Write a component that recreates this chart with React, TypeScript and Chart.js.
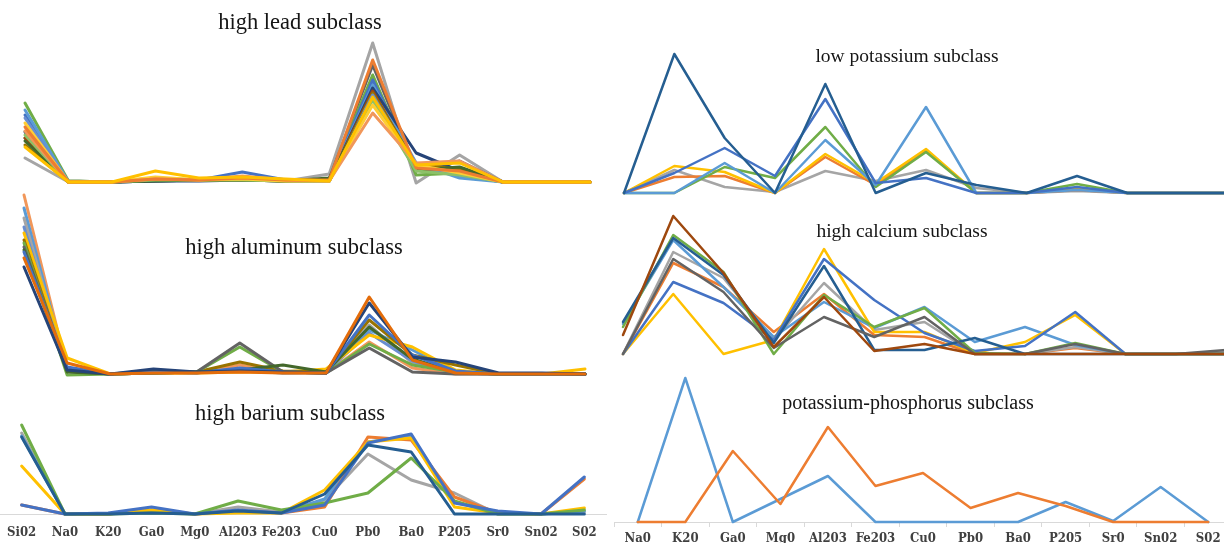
import React, { useEffect, useRef } from "react";
import { Chart, registerables } from "chart.js";

Chart.register(...registerables);

// ---------- categories ----------
const leftLabels = ["Si02", "Na0", "K20", "Ga0", "Mg0", "Al203", "Fe203", "Cu0", "Pb0", "Ba0", "P205", "Sr0", "Sn02", "S02"];
const rightLabels = ["Na0", "K20", "Ga0", "Mg0", "Al203", "Fe203", "Cu0", "Pb0", "Ba0", "P205", "Sr0", "Sn02", "S02"];

// ---------- high lead subclass ----------
const leadGray = [25, 1, 1, 3, 3, 4, 2, 9, 140, 0, 28, 1, 1, 1];
const leadDarkGray = [45, 1, 1, 2, 3, 3, 2, 4, 118, 12, 22, 1, 1, 1];
const leadGreen = [80, 2, 1, 3, 3, 4, 2, 3, 108, 8, 10, 1, 1, 1];
const leadBlue = [68, 1, 1, 2, 3, 11, 3, 3, 103, 14, 8, 1, 1, 1];
const leadLightBlue = [73, 1, 1, 5, 3, 6, 3, 3, 98, 20, 5, 1, 1, 1];
const leadNavy = [51, 1, 1, 2, 2, 3, 2, 2, 95, 30, 12, 1, 1, 1];
const leadBrown = [45, 1, 1, 3, 3, 4, 2, 3, 92, 16, 10, 1, 1, 1];
const leadOlive = [38, 1, 1, 4, 3, 3, 2, 2, 90, 18, 14, 1, 1, 1];
const leadPurple = [65, 1, 1, 3, 3, 5, 2, 2, 88, 15, 8, 1, 1, 1];
const leadDarkGreen = [42, 2, 1, 2, 3, 3, 2, 5, 85, 13, 16, 1, 1, 1];
const leadLightGreen = [48, 1, 1, 3, 3, 3, 2, 2, 83, 12, 8, 1, 1, 1];
const leadLightYellow = [60, 1, 1, 6, 3, 4, 2, 2, 78, 18, 10, 1, 1, 1];
const leadLightOrange = [52, 1, 1, 4, 3, 7, 3, 2, 70, 20, 22, 1, 1, 1];
const leadOrange = [56, 1, 1, 4, 3, 5, 3, 3, 123, 15, 12, 1, 1, 1];
const leadYellow = [36, 1, 1, 12, 5, 6, 4, 2, 86, 18, 20, 1, 1, 1];

// ---------- high aluminum subclass ----------
const aluLightOrange = [180, 6, 1, 2, 2, 10, 2, 2, 33, 7, 1, 1, 1, 1];
const aluLightBlue = [167, 5, 1, 2, 3, 5, 2, 3, 45, 25, 3, 1, 1, 1];
const aluGray = [157, 4, 1, 2, 3, 4, 2, 2, 50, 12, 2, 1, 1, 1];
const aluPurple = [148, 5, 1, 2, 3, 6, 3, 3, 42, 14, 2, 1, 1, 1];
const aluYellow = [142, 17, 1, 2, 2, 3, 3, 6, 40, 28, 5, 1, 1, 6];
const aluOlive = [135, 4, 1, 2, 3, 13, 4, 3, 55, 20, 10, 1, 1, 1];
const aluGreen = [132, 0, 1, 2, 3, 28, 3, 2, 31, 10, 3, 1, 1, 1];
const aluDarkGray = [128, 4, 1, 2, 3, 32, 3, 2, 27, 3, 1, 1, 1, 1];
const aluDarkGreen = [125, 3, 1, 4, 3, 5, 10, 3, 48, 16, 3, 1, 1, 1];
const aluBlue = [123, 8, 1, 3, 2, 7, 3, 2, 60, 20, 4, 1, 1, 1];
const aluNavy = [108, 5, 1, 6, 3, 4, 3, 2, 72, 18, 13, 2, 2, 1];
const aluOrange = [117, 12, 1, 2, 2, 3, 2, 2, 78, 15, 2, 1, 1, 1];

// ---------- high barium subclass ----------
const barGray = [81, 0, 0, 2, 0, 7, 2, 14, 60, 34, 21, 0, 0, 2];
const barLightBlue = [78, 0, 0, 3, 0, 3, 1, 15, 72, 78, 12, 1, 0, 3];
const barOrange = [9, 0, 0, 4, 0, 3, 1, 7, 77, 74, 17, 1, 0, 35];
const barYellow = [48, 0, 0, 4, 0, 1, 1, 24, 72, 76, 7, 1, 0, 6];
const barGreen = [89, 0, 0, 1, 0, 13, 4, 11, 21, 56, 13, 0, 0, 4];
const barBlue = [9, 0, 1, 7, 0, 4, 1, 9, 71, 80, 11, 3, 0, 37];
const barNavy = [77, 0, 0, 1, 0, 3, 1, 20, 69, 62, 0, 0, 0, 0];

// ---------- low potassium subclass ----------
const lowKGray = [0, 23, 6, 1, 22, 12, 23, 5, 0, 2, 0, 0, 0];
const lowKOrange = [0, 16, 17, 0, 36, 8, 42, 0, 0, 3, 0, 0, 0];
const lowKYellow = [0, 27, 21, 0, 39, 10, 44, 0, 0, 4, 0, 0, 0];
const lowKGreen = [0, 0, 26, 15, 66, 6, 41, 0, 0, 9, 0, 0, 0];
const lowKLightBlue = [0, 0, 30, 0, 53, 8, 86, 0, 0, 3, 0, 0, 0];
const lowKBlue = [0, 20, 45, 17, 94, 10, 15, 0, 0, 6, 0, 0, 0];
const lowKNavy = [0, 139, 55, 0, 109, 0, 20, 8, 0, 17, 0, 0, 0];

// ---------- high calcium subclass ----------
const caOrange = [0, 91, 67, 22, 60, 19, 17, 0, 0, 6, 0, 0, 0];
const caGray = [0, 102, 76, 14, 71, 24, 32, 0, 0, 7, 0, 0, 2];
const caLightBlue = [30, 114, 67, 17, 52, 26, 47, 12, 27, 9, 0, 0, 0];
const caYellow = [0, 60, 0, 14, 105, 22, 22, 1, 12, 39, 0, 0, 0];
const caBlue = [0, 72, 51, 14, 95, 54, 21, 3, 8, 42, 0, 0, 0];
const caGreen = [27, 119, 82, 0, 59, 27, 46, 1, 0, 11, 0, 0, 0];
const caNavy = [32, 116, 79, 11, 88, 4, 4, 16, 0, 0, 0, 0, 0];
const caDarkGray = [0, 95, 62, 6, 37, 17, 37, 0, 0, 10, 0, 0, 4];
const caBrown = [19, 138, 81, 7, 57, 3, 10, 0, 0, 0, 0, 0, 0];

// ---------- potassium-phosphorus subclass ----------
const kpBlue = [0, 144, 0, 23, 46, 0, 0, 0, 0, 20, 1, 35, 0];
const kpOrange = [0, 0, 71, 18, 95, 36, 49, 14, 29, 16, 0, 0, 0];

const TICK_FONT = "'DejaVu Serif Condensed', 'DejaVu Serif', serif";

type Series = { color: string; data: number[] };
type AxisKind = "none" | "plain" | "ticks";

interface PanelProps {
  left: number;
  top: number;
  width: number;
  height: number;
  pad: { left: number; right: number; top: number; bottom: number };
  labels: string[];
  series: Series[];
  yMax: number;
  lineWidth: number;
  axis: AxisKind;
  axisHeight?: number;
  tickPadding?: number;
}

function Panel(p: PanelProps) {
  const ref = useRef<HTMLCanvasElement | null>(null);
  useEffect(() => {
    if (!ref.current) return;
    let xScale: any;
    if (p.axis === "none") {
      xScale = { display: false, offset: false };
    } else {
      xScale = {
        display: true,
        offset: true,
        grid:
          p.axis === "ticks"
            ? { display: true, drawOnChartArea: false, drawTicks: true, tickLength: 5, offset: true, color: "#d9d9d9", lineWidth: 1 }
            : { display: false, drawTicks: false },
        border: { display: true, color: "#d9d9d9", width: 1 },
        ticks: {
          autoSkip: false,
          maxRotation: 0,
          minRotation: 0,
          padding: p.tickPadding ?? 0,
          color: "#404040",
          font: { family: TICK_FONT, size: 13, weight: "bold" },
        },
        afterFit: (s: any) => {
          s.height = p.axisHeight ?? 20;
          s.paddingLeft = 0;
          s.paddingRight = 0;
        },
      };
    }
    // later series in the list are painted on top (Chart.js paints index 0 last)
    const ordered = [...p.series].reverse();
    const chart = new Chart(ref.current, {
      type: "line",
      data: {
        labels: p.labels,
        datasets: ordered.map((s) => ({
          data: s.data,
          borderColor: s.color,
          backgroundColor: s.color,
          borderWidth: p.lineWidth,
          pointRadius: 0,
          pointHoverRadius: 0,
          tension: 0,
          fill: false,
          clip: false as any,
          borderJoinStyle: "round" as const,
          borderCapStyle: "round" as const,
        })),
      },
      options: {
        animation: false,
        responsive: false,
        maintainAspectRatio: false,
        events: [],
        layout: { padding: p.pad },
        plugins: {
          legend: { display: false },
          tooltip: { enabled: false },
          title: { display: false },
        },
        scales: {
          x: xScale,
          y: { display: false, min: 0, max: p.yMax },
        },
      },
    });
    return () => chart.destroy();
  }, []);
  return (
    <canvas
      ref={ref}
      width={p.width}
      height={p.height}
      style={{ position: "absolute", left: p.left, top: p.top, width: p.width, height: p.height }}
    />
  );
}

function Title({ text, cx, cy, size }: { text: string; cx: number; cy: number; size: number }) {
  return (
    <div
      style={{
        position: "absolute",
        left: cx - 200,
        top: cy - 15,
        width: 400,
        height: 30,
        lineHeight: "30px",
        textAlign: "center",
        fontFamily: "'Liberation Serif', 'Times New Roman', serif",
        fontSize: size,
        color: "#151515",
        whiteSpace: "nowrap",
        zIndex: 2,
      }}
    >
      {text}
    </div>
  );
}

export default function App() {
  const lead: Series[] = [
    { color: "#A5A5A5", data: leadGray },
    { color: "#636363", data: leadDarkGray },
    { color: "#70AD47", data: leadGreen },
    { color: "#4472C4", data: leadBlue },
    { color: "#5B9BD5", data: leadLightBlue },
    { color: "#264478", data: leadNavy },
    { color: "#9E480E", data: leadBrown },
    { color: "#997300", data: leadOlive },
    { color: "#698ED0", data: leadPurple },
    { color: "#43682B", data: leadDarkGreen },
    { color: "#8CC168", data: leadLightGreen },
    { color: "#FFCD33", data: leadLightYellow },
    { color: "#F1975A", data: leadLightOrange },
    { color: "#ED7D31", data: leadOrange },
    { color: "#FFC000", data: leadYellow },
  ];
  const alu: Series[] = [
    { color: "#F1975A", data: aluLightOrange },
    { color: "#5B9BD5", data: aluLightBlue },
    { color: "#A5A5A5", data: aluGray },
    { color: "#698ED0", data: aluPurple },
    { color: "#FFC000", data: aluYellow },
    { color: "#997300", data: aluOlive },
    { color: "#70AD47", data: aluGreen },
    { color: "#636363", data: aluDarkGray },
    { color: "#43682B", data: aluDarkGreen },
    { color: "#4472C4", data: aluBlue },
    { color: "#264478", data: aluNavy },
    { color: "#E36C0A", data: aluOrange },
  ];
  const bar: Series[] = [
    { color: "#A5A5A5", data: barGray },
    { color: "#5B9BD5", data: barLightBlue },
    { color: "#ED7D31", data: barOrange },
    { color: "#FFC000", data: barYellow },
    { color: "#70AD47", data: barGreen },
    { color: "#4472C4", data: barBlue },
    { color: "#255E91", data: barNavy },
  ];
  const lowK: Series[] = [
    { color: "#A5A5A5", data: lowKGray },
    { color: "#ED7D31", data: lowKOrange },
    { color: "#FFC000", data: lowKYellow },
    { color: "#70AD47", data: lowKGreen },
    { color: "#5B9BD5", data: lowKLightBlue },
    { color: "#4472C4", data: lowKBlue },
    { color: "#255E91", data: lowKNavy },
  ];
  const ca: Series[] = [
    { color: "#ED7D31", data: caOrange },
    { color: "#A5A5A5", data: caGray },
    { color: "#5B9BD5", data: caLightBlue },
    { color: "#FFC000", data: caYellow },
    { color: "#4472C4", data: caBlue },
    { color: "#70AD47", data: caGreen },
    { color: "#255E91", data: caNavy },
    { color: "#636363", data: caDarkGray },
    { color: "#9E480E", data: caBrown },
  ];
  const kp: Series[] = [
    { color: "#5B9BD5", data: kpBlue },
    { color: "#ED7D31", data: kpOrange },
  ];

  return (
    <div
      style={{
        position: "fixed",
        left: 0,
        top: 0,
        width: 1224,
        height: 543,
        overflow: "hidden",
        background: "#ffffff",
      }}
    >
      <Panel left={15} top={0} width={585} height={195} pad={{ left: 10, right: 10, top: 13, bottom: 12 }}
        labels={leftLabels} series={lead} yMax={170} lineWidth={3} axis="none" />
      <Panel left={14} top={180} width={581} height={205} pad={{ left: 10, right: 10, top: 5, bottom: 10 }}
        labels={leftLabels} series={alu} yMax={190} lineWidth={3} axis="none" />
      <Panel left={0} top={395} width={615} height={148} pad={{ left: 0, right: 9, top: 5, bottom: 0 }}
        labels={leftLabels} series={bar} yMax={114} lineWidth={3} axis="plain" axisHeight={29} tickPadding={11} />
      <Panel left={614} top={45} width={624} height={156} pad={{ left: 10, right: 10, top: 4, bottom: 8 }}
        labels={rightLabels} series={lowK} yMax={144} lineWidth={2.5} axis="none" />
      <Panel left={613} top={205} width={623} height={157} pad={{ left: 10, right: 10, top: 5, bottom: 8 }}
        labels={rightLabels} series={ca} yMax={144} lineWidth={2.5} axis="none" />
      <Panel left={614} top={365} width={618} height={178} pad={{ left: 0, right: 0, top: 5, bottom: 0 }}
        labels={rightLabels} series={kp} yMax={152} lineWidth={2.5} axis="ticks" axisHeight={21} tickPadding={4} />

      <Title text="high lead subclass" cx={300} cy={22} size={22.5} />
      <Title text="high aluminum subclass" cx={294} cy={247} size={22.5} />
      <Title text="high barium subclass" cx={290} cy={413} size={22.5} />
      <Title text="low potassium subclass" cx={907} cy={56} size={19.5} />
      <Title text="high calcium subclass" cx={902} cy={231} size={19.5} />
      <Title text="potassium-phosphorus subclass" cx={908} cy={402} size={20} />
    </div>
  );
}
